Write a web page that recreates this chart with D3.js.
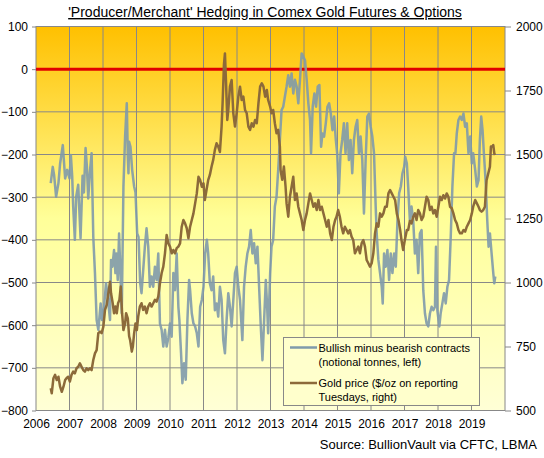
<!DOCTYPE html>
<html>
<head>
<meta charset="utf-8">
<script src="https://cdn.jsdelivr.net/npm/d3@7"></script>
<style>
  body { margin: 0; background: #fff; }
  svg { display: block; font-family: "Liberation Sans", Arial, sans-serif; }
</style>
</head>
<body>
<svg width="544" height="458"></svg>
<script>
// DATA (decimal year, value)
const hedging = [
  [2006.44,-267],[2006.50,-229],[2006.54,-248],[2006.60,-299],[2006.67,-267],[2006.72,-221],[2006.80,-178],
  [2006.87,-256],[2006.93,-236],[2007.00,-256],[2007.04,-201],[2007.08,-250],[2007.11,-322],[2007.16,-400],
  [2007.20,-299],[2007.26,-271],[2007.33,-396],[2007.39,-250],[2007.43,-289],[2007.48,-185],[2007.52,-229],
  [2007.56,-303],[2007.61,-240],[2007.66,-197],[2007.71,-393],[2007.76,-478],[2007.81,-588],[2007.86,-611],
  [2007.93,-549],[2007.97,-588],[2008.03,-557],[2008.09,-502],[2008.13,-525],[2008.21,-588],[2008.24,-447],
  [2008.28,-463],[2008.33,-424],[2008.37,-478],[2008.40,-432],[2008.44,-494],[2008.48,-385],[2008.52,-478],
  [2008.56,-572],[2008.61,-275],[2008.66,-158],[2008.71,-80],[2008.74,-200],[2008.76,-244],[2008.78,-170],
  [2008.82,-182],[2008.87,-236],[2008.93,-275],[2008.97,-289],[2009.02,-385],[2009.06,-393],[2009.11,-502],
  [2009.15,-525],[2009.20,-471],[2009.25,-416],[2009.30,-373],[2009.35,-416],[2009.40,-510],[2009.45,-486],
  [2009.50,-510],[2009.55,-463],[2009.60,-494],[2009.65,-432],[2009.70,-596],[2009.75,-611],[2009.80,-650],
  [2009.85,-611],[2009.90,-650],[2009.95,-630],[2010.00,-596],[2010.05,-627],[2010.10,-478],[2010.15,-518],
  [2010.20,-432],[2010.25,-557],[2010.28,-588],[2010.33,-666],[2010.37,-736],[2010.42,-689],[2010.47,-728],
  [2010.52,-588],[2010.57,-494],[2010.60,-518],[2010.65,-572],[2010.70,-596],[2010.75,-603],[2010.80,-619],
  [2010.85,-650],[2010.90,-557],[2010.95,-541],[2011.00,-510],[2011.05,-432],[2011.10,-400],[2011.14,-432],
  [2011.19,-502],[2011.24,-518],[2011.29,-486],[2011.34,-565],[2011.39,-549],[2011.44,-580],[2011.49,-510],
  [2011.54,-541],[2011.59,-635],[2011.64,-666],[2011.69,-588],[2011.74,-525],[2011.79,-557],[2011.84,-603],
  [2011.89,-541],[2011.94,-478],[2011.99,-463],[2012.04,-510],[2012.09,-541],[2012.16,-635],[2012.21,-510],
  [2012.26,-463],[2012.31,-432],[2012.36,-416],[2012.41,-377],[2012.46,-432],[2012.51,-408],[2012.56,-455],
  [2012.61,-416],[2012.66,-510],[2012.71,-603],[2012.76,-682],[2012.81,-588],[2012.86,-494],[2012.90,-557],
  [2012.93,-619],[2012.99,-478],[2013.03,-416],[2013.08,-400],[2013.13,-322],[2013.18,-299],[2013.23,-236],
  [2013.28,-166],[2013.33,-96],[2013.38,-88],[2013.43,-64],[2013.48,-41],[2013.53,-14],[2013.58,-41],
  [2013.63,-10],[2013.68,-57],[2013.73,-25],[2013.78,-41],[2013.83,-80],[2013.88,-25],[2013.93,37],
  [2013.98,29],[2014.03,21],[2014.08,-25],[2014.13,-80],[2014.18,-119],[2014.21,-197],[2014.26,-88],
  [2014.31,-57],[2014.36,-88],[2014.41,-41],[2014.46,-37],[2014.51,-182],[2014.55,-151],[2014.60,-158],
  [2014.65,-127],[2014.70,-88],[2014.75,-80],[2014.80,-104],[2014.85,-143],[2014.90,-111],[2014.95,-166],
  [2014.99,-197],[2015.04,-291],[2015.09,-197],[2015.14,-166],[2015.19,-127],[2015.24,-197],[2015.29,-127],
  [2015.34,-213],[2015.39,-166],[2015.44,-244],[2015.49,-166],[2015.54,-135],[2015.59,-119],[2015.64,-197],
  [2015.69,-158],[2015.74,-213],[2015.79,-338],[2015.84,-213],[2015.89,-111],[2015.94,-104],[2015.99,-135],
  [2016.04,-158],[2016.09,-197],[2016.14,-322],[2016.17,-385],[2016.22,-447],[2016.27,-478],[2016.32,-510],
  [2016.35,-549],[2016.39,-432],[2016.44,-463],[2016.49,-424],[2016.54,-494],[2016.59,-432],[2016.64,-478],
  [2016.69,-432],[2016.74,-463],[2016.79,-354],[2016.84,-291],[2016.89,-275],[2016.94,-244],[2016.99,-229],
  [2017.02,-205],[2017.07,-221],[2017.11,-275],[2017.16,-354],[2017.21,-322],[2017.26,-354],[2017.31,-432],
  [2017.36,-400],[2017.41,-478],[2017.46,-385],[2017.51,-377],[2017.56,-518],[2017.61,-572],[2017.66,-596],
  [2017.71,-603],[2017.76,-572],[2017.81,-557],[2017.86,-565],[2017.91,-557],[2017.94,-416],[2017.98,-565],
  [2018.04,-603],[2018.08,-572],[2018.13,-549],[2018.18,-525],[2018.23,-549],[2018.28,-510],[2018.33,-494],
  [2018.38,-393],[2018.43,-275],[2018.48,-197],[2018.52,-197],[2018.56,-151],[2018.61,-119],[2018.66,-111],
  [2018.71,-119],[2018.76,-104],[2018.81,-135],[2018.86,-127],[2018.91,-197],[2018.96,-158],[2019.01,-221],
  [2019.05,-197],[2019.11,-236],[2019.16,-275],[2019.21,-260],[2019.25,-166],[2019.29,-111],[2019.33,-143],
  [2019.37,-197],[2019.42,-260],[2019.47,-354],[2019.51,-416],[2019.55,-385],[2019.60,-432],[2019.65,-478],
  [2019.68,-502],[2019.71,-486]
];

const goldPrice = [
  [2006.44,587],[2006.47,567],[2006.52,626],[2006.57,639],[2006.62,619],[2006.67,632],[2006.72,593],
  [2006.77,573],[2006.82,593],[2006.87,619],[2006.91,626],[2006.96,632],[2007.01,613],[2007.06,639],
  [2007.11,652],[2007.16,645],[2007.21,665],[2007.26,671],[2007.31,684],[2007.36,671],[2007.41,658],
  [2007.46,652],[2007.51,665],[2007.56,658],[2007.61,665],[2007.66,658],[2007.71,697],[2007.76,723],
  [2007.81,736],[2007.86,802],[2007.91,808],[2007.96,802],[2008.01,827],[2008.06,893],[2008.11,912],
  [2008.16,958],[2008.21,1003],[2008.24,958],[2008.29,919],[2008.33,880],[2008.37,906],[2008.41,880],
  [2008.45,919],[2008.49,932],[2008.53,984],[2008.57,880],[2008.61,814],[2008.66,840],[2008.69,880],
  [2008.74,860],[2008.78,790],[2008.81,775],[2008.86,730],[2008.89,749],[2008.93,802],[2008.97,840],
  [2009.01,814],[2009.05,866],[2009.10,906],[2009.15,919],[2009.20,893],[2009.25,906],[2009.30,880],
  [2009.35,906],[2009.40,919],[2009.45,906],[2009.50,919],[2009.55,932],[2009.60,925],[2009.65,945],
  [2009.70,997],[2009.75,1036],[2009.80,1062],[2009.85,1114],[2009.90,1186],[2009.95,1153],[2010.00,1140],
  [2010.05,1114],[2010.10,1127],[2010.15,1114],[2010.20,1134],[2010.25,1140],[2010.30,1153],[2010.35,1218],
  [2010.40,1244],[2010.45,1231],[2010.50,1212],[2010.55,1173],[2010.60,1218],[2010.65,1244],[2010.70,1270],
  [2010.75,1309],[2010.80,1348],[2010.85,1413],[2010.90,1400],[2010.95,1374],[2011.00,1387],[2011.04,1322],
  [2011.09,1361],[2011.14,1400],[2011.19,1420],[2011.24,1452],[2011.29,1479],[2011.34,1518],[2011.39,1544],
  [2011.44,1531],[2011.49,1510],[2011.54,1609],[2011.57,1700],[2011.61,1850],[2011.64,1895],[2011.67,1791],
  [2011.71,1635],[2011.74,1674],[2011.79,1765],[2011.84,1791],[2011.89,1661],[2011.94,1609],[2011.99,1661],
  [2012.04,1726],[2012.09,1765],[2012.14,1713],[2012.19,1726],[2012.24,1674],[2012.29,1661],[2012.34,1609],
  [2012.39,1596],[2012.44,1622],[2012.49,1609],[2012.54,1635],[2012.59,1622],[2012.64,1700],[2012.69,1765],
  [2012.74,1778],[2012.79,1765],[2012.84,1726],[2012.89,1752],[2012.93,1713],[2012.99,1687],[2013.03,1661],
  [2013.08,1674],[2013.13,1622],[2013.18,1583],[2013.23,1596],[2013.28,1531],[2013.30,1440],[2013.35,1401],
  [2013.40,1453],[2013.45,1374],[2013.48,1309],[2013.53,1257],[2013.58,1335],[2013.63,1374],[2013.68,1413],
  [2013.73,1322],[2013.78,1348],[2013.83,1296],[2013.88,1270],[2013.93,1244],[2013.98,1205],[2014.03,1244],
  [2014.08,1270],[2014.13,1309],[2014.18,1348],[2014.23,1322],[2014.28,1296],[2014.33,1309],[2014.38,1283],
  [2014.43,1322],[2014.48,1283],[2014.53,1296],[2014.58,1270],[2014.63,1244],[2014.68,1218],[2014.73,1244],
  [2014.78,1192],[2014.83,1166],[2014.88,1218],[2014.93,1244],[2014.97,1257],[2015.02,1283],[2015.07,1257],
  [2015.12,1218],[2015.17,1192],[2015.22,1218],[2015.27,1205],[2015.32,1192],[2015.37,1205],[2015.42,1179],
  [2015.47,1166],[2015.52,1114],[2015.57,1127],[2015.62,1140],[2015.67,1114],[2015.72,1153],[2015.77,1166],
  [2015.82,1140],[2015.87,1088],[2015.92,1075],[2015.97,1062],[2016.02,1075],[2016.07,1114],[2016.12,1192],
  [2016.17,1231],[2016.22,1218],[2016.27,1270],[2016.32,1257],[2016.37,1270],[2016.42,1296],[2016.47,1296],
  [2016.52,1348],[2016.57,1361],[2016.62,1348],[2016.67,1335],[2016.72,1322],[2016.77,1270],[2016.82,1244],
  [2016.87,1205],[2016.91,1166],[2016.96,1127],[2017.01,1166],[2017.07,1205],[2017.11,1205],[2017.16,1240],
  [2017.21,1231],[2017.26,1257],[2017.31,1270],[2017.36,1244],[2017.41,1283],[2017.46,1270],[2017.51,1244],
  [2017.56,1257],[2017.61,1296],[2017.66,1335],[2017.71,1322],[2017.76,1283],[2017.81,1296],[2017.86,1270],
  [2017.91,1283],[2017.96,1257],[2018.01,1296],[2018.06,1335],[2018.11,1322],[2018.16,1341],[2018.21,1328],
  [2018.26,1348],[2018.31,1335],[2018.36,1296],[2018.41,1290],[2018.46,1270],[2018.51,1244],[2018.56,1231],
  [2018.61,1205],[2018.66,1192],[2018.71,1192],[2018.76,1205],[2018.81,1199],[2018.86,1218],[2018.91,1231],
  [2018.96,1244],[2019.01,1270],[2019.05,1296],[2019.11,1322],[2019.16,1309],[2019.21,1296],[2019.25,1283],
  [2019.30,1277],[2019.35,1283],[2019.40,1296],[2019.45,1400],[2019.50,1426],[2019.55,1452],[2019.58,1531],
  [2019.62,1531],[2019.65,1537],[2019.68,1505],[2019.70,1498]
];

const years = d3.range(2006, 2020);
const leftTicks = d3.range(-800, 101, 100);
const rightTicks = d3.range(500, 2001, 250);
const legendLabels = [
  ['Bullish minus bearish contracts', '(notional tonnes, left)'],
  ['Gold price ($/oz on reporting', 'Tuesdays, right)']
];

const svg = d3.select('svg');
const m = { left: 36, right: 505, top: 26.5, bottom: 410.5 };

const x = d3.scaleLinear().domain([2006, 2020]).range([m.left, m.right]);
const yL = d3.scaleLinear().domain([-800, 100]).range([m.bottom, m.top]);
const yR = d3.scaleLinear().domain([500, 2000]).range([m.bottom, m.top]);

// background gradient
const grad = svg.append('defs')
  .append('linearGradient')
    .attr('id', 'bg')
    .attr('x1', 0).attr('y1', 0).attr('x2', 0).attr('y2', 1);
grad.append('stop').attr('offset', '0%').attr('stop-color', '#ffc000');
grad.append('stop').attr('offset', '50%').attr('stop-color', '#ffff99');
grad.append('stop').attr('offset', '100%').attr('stop-color', '#ffffd6');

svg.append('rect')
    .attr('x', m.left).attr('y', m.top)
    .attr('width', m.right - m.left).attr('height', m.bottom - m.top)
    .attr('fill', 'url(#bg)');

// GRID
const grid = svg.append('g')
  .attr('stroke', '#888')
  .attr('stroke-width', 1);
grid.selectAll('.vg')
  .data(d3.range(2007, 2020))
  .join('line')
    .attr('x1', d => x(d)).attr('x2', d => x(d))
    .attr('y1', m.top).attr('y2', m.bottom);
grid.selectAll('.hg')
  .data(leftTicks.slice(1, -1))
  .join('line')
    .attr('x1', m.left).attr('x2', m.right)
    .attr('y1', d => yL(d)).attr('y2', d => yL(d));

svg.append('rect')
    .attr('x', m.left).attr('y', m.top)
    .attr('width', m.right - m.left).attr('height', m.bottom - m.top)
    .attr('fill', 'none')
    .attr('stroke', '#888');

// zero line
svg.append('line')
    .attr('x1', m.left).attr('x2', m.right)
    .attr('y1', yL(0)).attr('y2', yL(0))
    .attr('stroke', '#e00000')
    .attr('stroke-width', 3);

// AXES
const axL = svg.append('g')
  .attr('transform', `translate(${m.left},0)`)
  .call(d3.axisLeft(yL).tickValues(leftTicks).tickSize(4).tickPadding(4));
const axR = svg.append('g')
  .attr('transform', `translate(${m.right},0)`)
  .call(d3.axisRight(yR).tickValues(rightTicks).tickFormat(d3.format('d')).tickSize(6).tickPadding(5));
const axB = svg.append('g')
  .attr('transform', `translate(0,${m.bottom})`)
  .call(d3.axisBottom(x).tickValues(years).tickFormat(d3.format('d')).tickSize(0).tickPadding(9));

[axL, axR, axB].forEach(a => {
  a.select('.domain').remove();
  a.selectAll('line').attr('stroke', '#888');
  a.selectAll('text')
    .attr('fill', '#000')
    .style('font-size', '12px')
    .style('font-family', '"Liberation Sans", Arial, sans-serif');
});

// LINES
const hedgeLine = d3.line()
  .x(d => x(d[0]))
  .y(d => yL(d[1]));
const goldLine = d3.line()
  .x(d => x(d[0]))
  .y(d => yR(d[1]));

svg.append('path')
    .datum(hedging)
    .attr('d', hedgeLine)
    .attr('fill', 'none')
    .attr('stroke', '#7f9aab')
    .attr('stroke-opacity', 0.9)
    .attr('stroke-width', 2.5)
    .attr('stroke-linejoin', 'round');

svg.append('path')
    .datum(goldPrice)
    .attr('d', goldLine)
    .attr('fill', 'none')
    .attr('stroke', '#8c6a3a')
    .attr('stroke-width', 2.5)
    .attr('stroke-linejoin', 'round');

// LEGEND
const legend = svg.append('g');
legend.append('rect')
    .attr('x', 283.5).attr('y', 337.5)
    .attr('width', 196).attr('height', 68)
    .attr('fill', '#ffffcc')
    .attr('stroke', '#888');

const legendColors = ['#7f9aab', '#8c6a3a'];
legendLabels.forEach((lines, i) => {
  const ly = 347.5 + i * 35.5;
  legend.append('line')
      .attr('x1', 290).attr('x2', 317)
      .attr('y1', ly).attr('y2', ly)
      .attr('stroke', legendColors[i])
      .attr('stroke-width', 2.5);
  lines.forEach((t, j) => {
    legend.append('text')
        .attr('x', 318.5)
        .attr('y', ly + 4 + j * 14)
        .style('font-size', '11px')
        .text(t);
  });
});

// TITLE + SOURCE
svg.append('text')
    .attr('x', 265).attr('y', 17)
    .attr('text-anchor', 'middle')
    .style('font-size', '14px')
    .style('text-decoration', 'underline')
    .text("'Producer/Merchant' Hedging in Comex Gold Futures & Options");

svg.append('text')
    .attr('x', 537).attr('y', 449)
    .attr('text-anchor', 'end')
    .style('font-size', '13px')
    .text('Source: BullionVault via CFTC, LBMA');
</script>
</body>
</html>
